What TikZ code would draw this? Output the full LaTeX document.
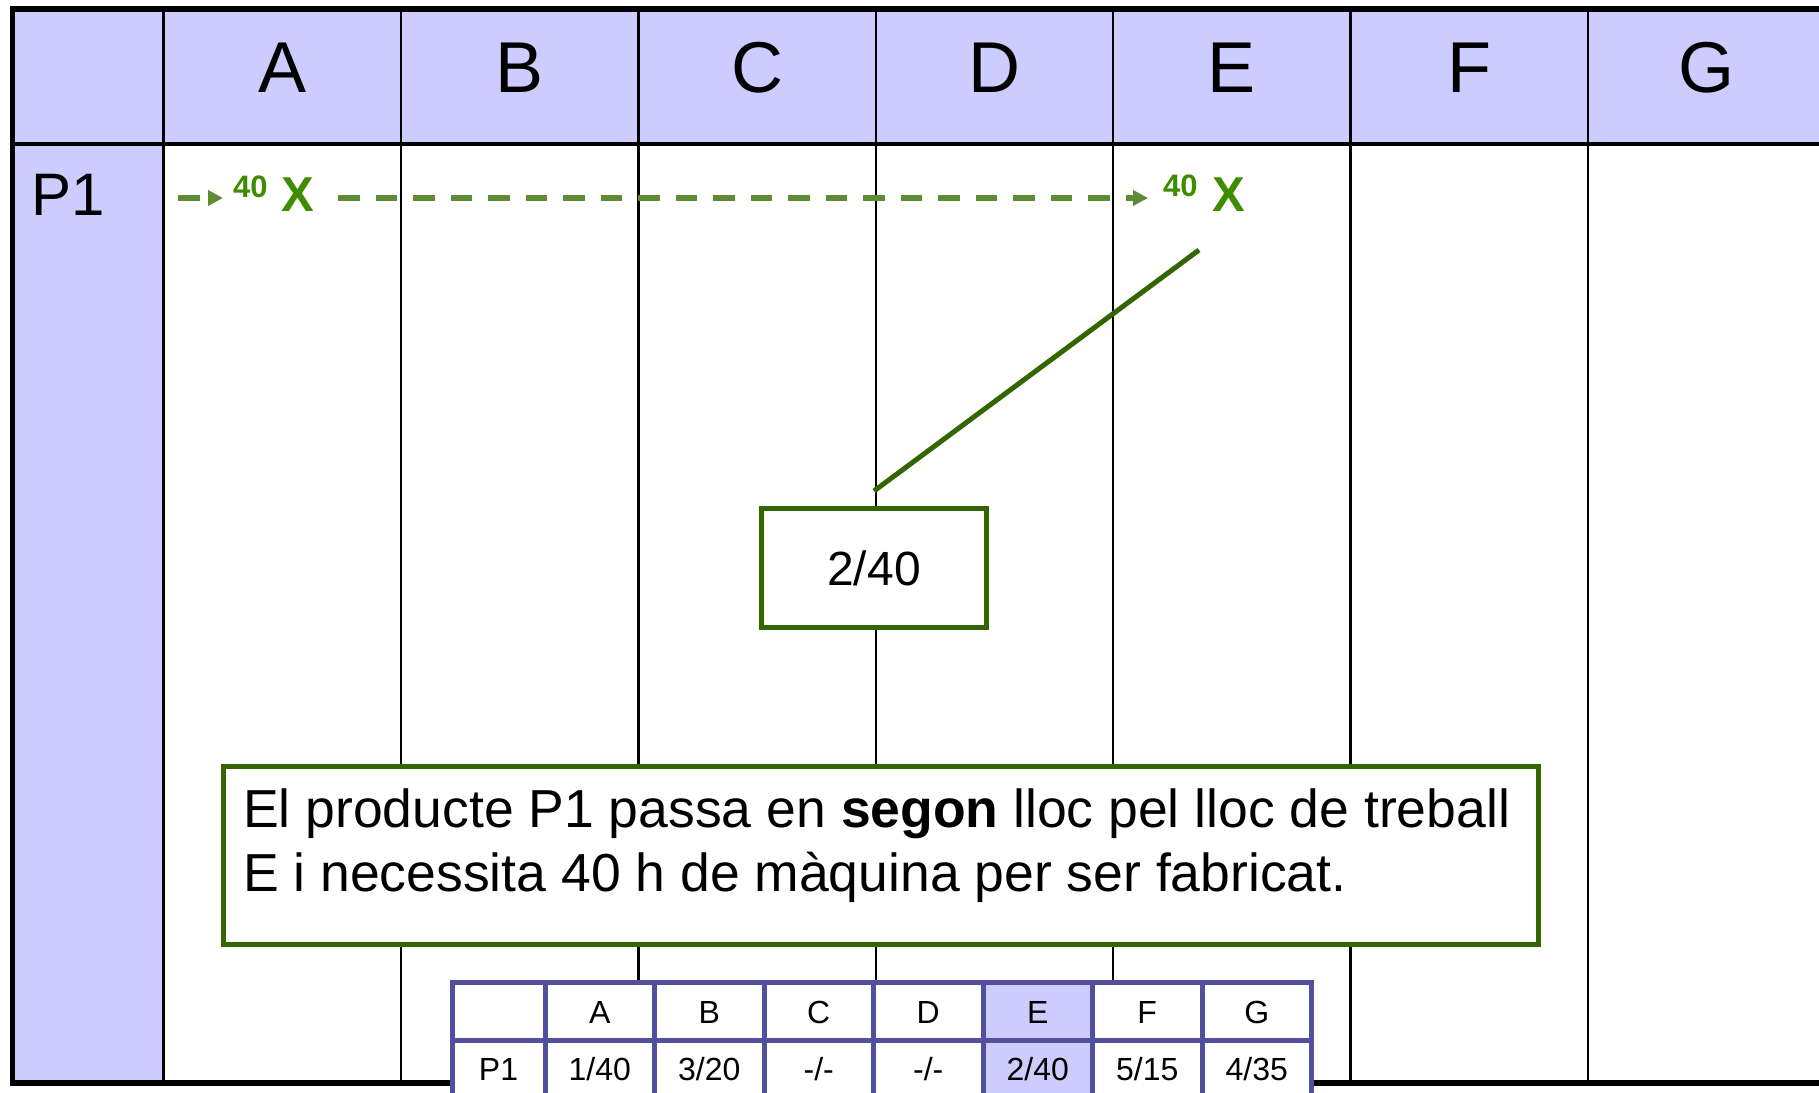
\documentclass[tikz,border=0pt]{standalone}
\usepackage{fontspec}
\setmainfont{Liberation Sans}
\usetikzlibrary{arrows.meta}
\definecolor{lav}{HTML}{CCCCFF}
\definecolor{dgreen}{HTML}{336600}
\definecolor{xgreen}{HTML}{3F8C00}
\definecolor{dashgreen}{HTML}{5E8C35}
\definecolor{tblue}{HTML}{524F9E}
\begin{document}
\begin{tikzpicture}[x=1pt,y=-1pt,
  hdr/.style={font=\fontsize{72}{80}\selectfont, anchor=base, inner sep=0},
  rowlbl/.style={font=\fontsize{60}{70}\selectfont, anchor=base west, inner sep=0},
  numlbl/.style={font=\fontsize{31}{36}\selectfont\bfseries, text=xgreen, anchor=base west, inner sep=0},
  xlbl/.style={font=\fontsize{49}{56}\selectfont\bfseries, text=xgreen, anchor=base west, inner sep=0},
  flow/.style={draw=dashgreen, line width=6pt, dash pattern=on 21.7pt off 15.8pt, -{Triangle[length=15pt,width=15pt]}},
  valbox/.style={draw=dgreen, line width=5pt, fill=white, font=\fontsize{48}{56}\selectfont, inner sep=0},
  descbox/.style={draw=dgreen, line width=5pt, fill=white, inner sep=0},
  desctext/.style={font=\fontsize{53.5}{64}\selectfont, anchor=base west, inner sep=0},
  tline/.style={draw=tblue, line width=5pt},
  tcell/.style={font=\fontsize{32}{38}\selectfont, anchor=base, inner sep=0},
  gridline/.style={draw=black, line width=2.5pt}
]
\useasboundingbox (0,0) rectangle (1819,1092);
\clip (0,0) rectangle (1819,1092);
\fill[white] (0,0) rectangle (1819,1092);
% backgrounds
\fill[lav] (12.5,9) rectangle (1830,144);
\fill[lav] (12.5,144) rectangle (163.6,1083);
% grid
\foreach \i in {0,...,6} \draw[gridline] ({163.6+237.4*\i},9) -- ({163.6+237.4*\i},1083);
\draw[line width=3.5pt] (12.5,144) -- (1830,144);
\draw[line width=5.5pt] (1830,9) -- (12.5,9) -- (12.5,1083) -- (1830,1083);
% header letters
\foreach \l [count=\i from 0] in {A,B,C,D,E,F,G}
  \node[hdr] (h\l) at ({282.3+237.4*\i},92) {\l};
\node[rowlbl] (p1) at (31,215) {P1};
% flow marks
\node[numlbl] (n40a) at (233,197) {40};
\node[xlbl] (xa) at (281,211) {X};
\node[numlbl] (n40e) at (1163,196) {40};
\node[xlbl] (xe) at (1212,211) {X};
\coordinate (a1s) at (178,198);
\coordinate (a1e) at (223,198);
\coordinate (a2s) at (338,198);
\coordinate (a2e) at (1148,198);
\draw[flow] (a1s) -- (a1e);
\draw[flow] (a2s) -- (a2e);
% value box
\node[valbox, minimum width=225pt, minimum height=119pt] (v) at (874,568) {2/40};
\coordinate (dtop) at (1199,250);
\draw[dgreen, line width=5pt] (dtop) -- ([yshift=15pt]v.north);
% description box
\node[descbox, minimum width=1315pt, minimum height=178pt, anchor=north west] (desc) at (221,764) {};
\node[desctext] (l1) at (243,827) {El producte P1 passa en \textbf{segon} lloc pel lloc de treball};
\node[desctext] (l2) at (243,891) {E i necessita 40 h de màquina per ser fabricat.};
% small table
\fill[white] (452,982) rectangle (1311.5,1100);
\fill[lav] (983,982) rectangle (1092.5,1100);
\draw[tline] (452,1100) -- (452,982) -- (1311.5,982) -- (1311.5,1100);
\draw[tline] (452,1040) -- (1311.5,1040);
\foreach \x in {545,654.5,764,873.5,983,1092.5,1202} \draw[tline] (\x,982) -- (\x,1100);
\node[tcell] (tp1) at (498.5,1080) {P1};
\foreach \h/\v [count=\i from 0] in {A/1\slash 40,B/3\slash 20,C/-\slash -,D/-\slash -,E/2\slash 40,F/5\slash 15,G/4\slash 35} {
  \node[tcell] (th\h) at ({599.75+109.5*\i},1023) {\h};
  \node[tcell] (tv\h) at ({599.75+109.5*\i},1080) {\v};
}
\end{tikzpicture}
\end{document}
